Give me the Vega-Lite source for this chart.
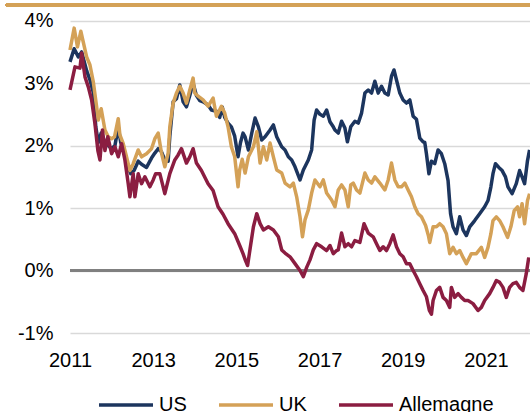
{
  "$schema": "https://vega.github.io/schema/vega-lite/v6.json",
  "width": 460,
  "height": 328,
  "autosize": {"type": "none"},
  "padding": {"left": 70, "top": 5, "right": 0, "bottom": 79},
  "background": "white",
  "config": {
    "view": {"stroke": null},
    "font": "Liberation Sans",
    "axis": {"labelFont": "Liberation Sans", "labelFontSize": 20, "labelColor": "#000000", "ticks": false, "domain": false, "title": null}
  },
  "data": {"values": [
{"s":"US","t":2011.0,"v":3.34},{"s":"US","t":2011.1,"v":3.55},{"s":"US","t":2011.2,"v":3.42},{"s":"US","t":2011.28,"v":3.5},{"s":"US","t":2011.4,"v":3.2},{"s":"US","t":2011.48,"v":3.05},{"s":"US","t":2011.56,"v":2.85},{"s":"US","t":2011.62,"v":2.3},{"s":"US","t":2011.68,"v":2.05},{"s":"US","t":2011.75,"v":2.2},{"s":"US","t":2011.84,"v":2.05},{"s":"US","t":2011.92,"v":2.0},{"s":"US","t":2012.0,"v":1.95},{"s":"US","t":2012.08,"v":2.0},{"s":"US","t":2012.16,"v":2.3},{"s":"US","t":2012.22,"v":2.05},{"s":"US","t":2012.3,"v":1.9},{"s":"US","t":2012.38,"v":1.7},{"s":"US","t":2012.46,"v":1.55},{"s":"US","t":2012.54,"v":1.6},{"s":"US","t":2012.64,"v":1.75},{"s":"US","t":2012.72,"v":1.7},{"s":"US","t":2012.84,"v":1.65},{"s":"US","t":2012.96,"v":1.8},{"s":"US","t":2013.04,"v":1.88},{"s":"US","t":2013.12,"v":1.95},{"s":"US","t":2013.2,"v":1.9},{"s":"US","t":2013.28,"v":1.77},{"s":"US","t":2013.36,"v":1.75},{"s":"US","t":2013.4,"v":2.15},{"s":"US","t":2013.48,"v":2.7},{"s":"US","t":2013.56,"v":2.75},{"s":"US","t":2013.64,"v":2.97},{"s":"US","t":2013.72,"v":2.7},{"s":"US","t":2013.8,"v":2.62},{"s":"US","t":2013.88,"v":2.8},{"s":"US","t":2013.96,"v":3.0},{"s":"US","t":2014.04,"v":2.8},{"s":"US","t":2014.12,"v":2.72},{"s":"US","t":2014.2,"v":2.7},{"s":"US","t":2014.32,"v":2.65},{"s":"US","t":2014.4,"v":2.57},{"s":"US","t":2014.52,"v":2.55},{"s":"US","t":2014.6,"v":2.45},{"s":"US","t":2014.66,"v":2.62},{"s":"US","t":2014.72,"v":2.45},{"s":"US","t":2014.8,"v":2.36},{"s":"US","t":2014.88,"v":2.3},{"s":"US","t":2014.96,"v":2.15},{"s":"US","t":2015.04,"v":1.82},{"s":"US","t":2015.1,"v":2.05},{"s":"US","t":2015.16,"v":2.2},{"s":"US","t":2015.21,"v":2.14},{"s":"US","t":2015.29,"v":1.93},{"s":"US","t":2015.37,"v":2.2},{"s":"US","t":2015.45,"v":2.44},{"s":"US","t":2015.53,"v":2.3},{"s":"US","t":2015.61,"v":2.09},{"s":"US","t":2015.69,"v":2.14},{"s":"US","t":2015.81,"v":2.25},{"s":"US","t":2015.89,"v":2.33},{"s":"US","t":2015.97,"v":2.14},{"s":"US","t":2016.09,"v":1.98},{"s":"US","t":2016.17,"v":1.93},{"s":"US","t":2016.25,"v":1.82},{"s":"US","t":2016.33,"v":1.77},{"s":"US","t":2016.41,"v":1.66},{"s":"US","t":2016.53,"v":1.45},{"s":"US","t":2016.61,"v":1.61},{"s":"US","t":2016.73,"v":1.77},{"s":"US","t":2016.81,"v":1.93},{"s":"US","t":2016.87,"v":2.41},{"s":"US","t":2016.93,"v":2.57},{"s":"US","t":2017.01,"v":2.5},{"s":"US","t":2017.09,"v":2.47},{"s":"US","t":2017.17,"v":2.57},{"s":"US","t":2017.25,"v":2.38},{"s":"US","t":2017.33,"v":2.3},{"s":"US","t":2017.37,"v":2.25},{"s":"US","t":2017.45,"v":2.2},{"s":"US","t":2017.53,"v":2.39},{"s":"US","t":2017.61,"v":2.28},{"s":"US","t":2017.67,"v":2.06},{"s":"US","t":2017.75,"v":2.3},{"s":"US","t":2017.85,"v":2.39},{"s":"US","t":2017.93,"v":2.36},{"s":"US","t":2018.01,"v":2.52},{"s":"US","t":2018.09,"v":2.84},{"s":"US","t":2018.17,"v":2.89},{"s":"US","t":2018.25,"v":2.84},{"s":"US","t":2018.33,"v":3.03},{"s":"US","t":2018.41,"v":2.84},{"s":"US","t":2018.49,"v":2.95},{"s":"US","t":2018.57,"v":2.84},{"s":"US","t":2018.65,"v":2.81},{"s":"US","t":2018.73,"v":3.11},{"s":"US","t":2018.79,"v":3.21},{"s":"US","t":2018.85,"v":3.05},{"s":"US","t":2018.93,"v":2.84},{"s":"US","t":2019.01,"v":2.73},{"s":"US","t":2019.09,"v":2.68},{"s":"US","t":2019.17,"v":2.73},{"s":"US","t":2019.25,"v":2.47},{"s":"US","t":2019.33,"v":2.42},{"s":"US","t":2019.41,"v":2.12},{"s":"US","t":2019.49,"v":2.06},{"s":"US","t":2019.53,"v":2.05},{"s":"US","t":2019.57,"v":1.87},{"s":"US","t":2019.63,"v":1.55},{"s":"US","t":2019.69,"v":1.75},{"s":"US","t":2019.77,"v":1.71},{"s":"US","t":2019.85,"v":1.93},{"s":"US","t":2019.93,"v":1.87},{"s":"US","t":2020.01,"v":1.71},{"s":"US","t":2020.09,"v":1.44},{"s":"US","t":2020.15,"v":0.91},{"s":"US","t":2020.21,"v":0.7},{"s":"US","t":2020.29,"v":0.59},{"s":"US","t":2020.37,"v":0.86},{"s":"US","t":2020.45,"v":0.65},{"s":"US","t":2020.53,"v":0.56},{"s":"US","t":2020.61,"v":0.7},{"s":"US","t":2020.73,"v":0.8},{"s":"US","t":2020.85,"v":0.91},{"s":"US","t":2020.97,"v":1.02},{"s":"US","t":2021.05,"v":1.12},{"s":"US","t":2021.12,"v":1.34},{"s":"US","t":2021.17,"v":1.55},{"s":"US","t":2021.23,"v":1.71},{"s":"US","t":2021.31,"v":1.65},{"s":"US","t":2021.39,"v":1.6},{"s":"US","t":2021.47,"v":1.5},{"s":"US","t":2021.53,"v":1.34},{"s":"US","t":2021.63,"v":1.23},{"s":"US","t":2021.73,"v":1.39},{"s":"US","t":2021.81,"v":1.6},{"s":"US","t":2021.87,"v":1.5},{"s":"US","t":2021.93,"v":1.39},{"s":"US","t":2022.0,"v":1.76},{"s":"US","t":2022.05,"v":1.93},
{"s":"UK","t":2011.0,"v":3.53},{"s":"UK","t":2011.1,"v":3.88},{"s":"UK","t":2011.18,"v":3.58},{"s":"UK","t":2011.26,"v":3.83},{"s":"UK","t":2011.4,"v":3.42},{"s":"UK","t":2011.48,"v":3.29},{"s":"UK","t":2011.56,"v":3.02},{"s":"UK","t":2011.64,"v":2.62},{"s":"UK","t":2011.68,"v":2.41},{"s":"UK","t":2011.75,"v":2.59},{"s":"UK","t":2011.84,"v":2.25},{"s":"UK","t":2011.92,"v":2.14},{"s":"UK","t":2012.0,"v":2.11},{"s":"UK","t":2012.07,"v":2.14},{"s":"UK","t":2012.16,"v":2.43},{"s":"UK","t":2012.2,"v":2.17},{"s":"UK","t":2012.28,"v":2.03},{"s":"UK","t":2012.36,"v":1.82},{"s":"UK","t":2012.44,"v":1.6},{"s":"UK","t":2012.52,"v":1.71},{"s":"UK","t":2012.64,"v":1.93},{"s":"UK","t":2012.72,"v":1.82},{"s":"UK","t":2012.84,"v":1.87},{"s":"UK","t":2012.96,"v":1.95},{"s":"UK","t":2013.04,"v":2.11},{"s":"UK","t":2013.12,"v":2.2},{"s":"UK","t":2013.2,"v":1.88},{"s":"UK","t":2013.28,"v":1.66},{"s":"UK","t":2013.36,"v":1.88},{"s":"UK","t":2013.4,"v":2.3},{"s":"UK","t":2013.48,"v":2.68},{"s":"UK","t":2013.56,"v":2.84},{"s":"UK","t":2013.64,"v":2.95},{"s":"UK","t":2013.72,"v":2.84},{"s":"UK","t":2013.8,"v":2.68},{"s":"UK","t":2013.88,"v":2.89},{"s":"UK","t":2013.96,"v":3.08},{"s":"UK","t":2014.0,"v":2.84},{"s":"UK","t":2014.08,"v":2.79},{"s":"UK","t":2014.2,"v":2.73},{"s":"UK","t":2014.32,"v":2.63},{"s":"UK","t":2014.44,"v":2.76},{"s":"UK","t":2014.52,"v":2.47},{"s":"UK","t":2014.64,"v":2.63},{"s":"UK","t":2014.72,"v":2.52},{"s":"UK","t":2014.8,"v":2.3},{"s":"UK","t":2014.88,"v":1.98},{"s":"UK","t":2014.96,"v":1.82},{"s":"UK","t":2015.04,"v":1.34},{"s":"UK","t":2015.08,"v":1.61},{"s":"UK","t":2015.14,"v":1.78},{"s":"UK","t":2015.21,"v":1.56},{"s":"UK","t":2015.29,"v":1.82},{"s":"UK","t":2015.41,"v":1.98},{"s":"UK","t":2015.49,"v":2.22},{"s":"UK","t":2015.57,"v":1.72},{"s":"UK","t":2015.65,"v":1.98},{"s":"UK","t":2015.73,"v":1.77},{"s":"UK","t":2015.81,"v":2.04},{"s":"UK","t":2015.89,"v":1.82},{"s":"UK","t":2015.97,"v":1.61},{"s":"UK","t":2016.09,"v":1.56},{"s":"UK","t":2016.17,"v":1.4},{"s":"UK","t":2016.29,"v":1.34},{"s":"UK","t":2016.37,"v":1.4},{"s":"UK","t":2016.45,"v":1.18},{"s":"UK","t":2016.53,"v":0.86},{"s":"UK","t":2016.59,"v":0.54},{"s":"UK","t":2016.65,"v":0.81},{"s":"UK","t":2016.73,"v":0.97},{"s":"UK","t":2016.81,"v":1.24},{"s":"UK","t":2016.89,"v":1.45},{"s":"UK","t":2017.01,"v":1.34},{"s":"UK","t":2017.09,"v":1.45},{"s":"UK","t":2017.17,"v":1.24},{"s":"UK","t":2017.29,"v":1.13},{"s":"UK","t":2017.37,"v":1.02},{"s":"UK","t":2017.45,"v":1.29},{"s":"UK","t":2017.53,"v":1.37},{"s":"UK","t":2017.61,"v":1.29},{"s":"UK","t":2017.69,"v":1.02},{"s":"UK","t":2017.75,"v":1.37},{"s":"UK","t":2017.81,"v":1.4},{"s":"UK","t":2017.89,"v":1.29},{"s":"UK","t":2017.97,"v":1.24},{"s":"UK","t":2018.09,"v":1.56},{"s":"UK","t":2018.17,"v":1.45},{"s":"UK","t":2018.25,"v":1.4},{"s":"UK","t":2018.33,"v":1.5},{"s":"UK","t":2018.45,"v":1.4},{"s":"UK","t":2018.57,"v":1.29},{"s":"UK","t":2018.65,"v":1.45},{"s":"UK","t":2018.73,"v":1.72},{"s":"UK","t":2018.81,"v":1.45},{"s":"UK","t":2018.89,"v":1.34},{"s":"UK","t":2018.97,"v":1.34},{"s":"UK","t":2019.05,"v":1.4},{"s":"UK","t":2019.13,"v":1.29},{"s":"UK","t":2019.21,"v":1.18},{"s":"UK","t":2019.29,"v":1.02},{"s":"UK","t":2019.37,"v":0.91},{"s":"UK","t":2019.45,"v":0.86},{"s":"UK","t":2019.55,"v":0.72},{"s":"UK","t":2019.62,"v":0.55},{"s":"UK","t":2019.65,"v":0.45},{"s":"UK","t":2019.73,"v":0.7},{"s":"UK","t":2019.81,"v":0.7},{"s":"UK","t":2019.89,"v":0.75},{"s":"UK","t":2019.97,"v":0.7},{"s":"UK","t":2020.05,"v":0.59},{"s":"UK","t":2020.13,"v":0.27},{"s":"UK","t":2020.21,"v":0.37},{"s":"UK","t":2020.29,"v":0.27},{"s":"UK","t":2020.37,"v":0.32},{"s":"UK","t":2020.45,"v":0.21},{"s":"UK","t":2020.53,"v":0.11},{"s":"UK","t":2020.65,"v":0.27},{"s":"UK","t":2020.77,"v":0.27},{"s":"UK","t":2020.89,"v":0.37},{"s":"UK","t":2020.97,"v":0.21},{"s":"UK","t":2021.05,"v":0.37},{"s":"UK","t":2021.12,"v":0.59},{"s":"UK","t":2021.17,"v":0.8},{"s":"UK","t":2021.25,"v":0.86},{"s":"UK","t":2021.33,"v":0.8},{"s":"UK","t":2021.41,"v":0.7},{"s":"UK","t":2021.52,"v":0.53},{"s":"UK","t":2021.6,"v":0.7},{"s":"UK","t":2021.68,"v":0.96},{"s":"UK","t":2021.76,"v":1.02},{"s":"UK","t":2021.81,"v":0.86},{"s":"UK","t":2021.87,"v":1.07},{"s":"UK","t":2021.93,"v":0.75},{"s":"UK","t":2022.0,"v":1.12},{"s":"UK","t":2022.05,"v":1.23},
{"s":"Allemagne","t":2011.0,"v":2.89},{"s":"Allemagne","t":2011.12,"v":3.26},{"s":"Allemagne","t":2011.24,"v":3.24},{"s":"Allemagne","t":2011.28,"v":3.48},{"s":"Allemagne","t":2011.36,"v":3.1},{"s":"Allemagne","t":2011.44,"v":2.94},{"s":"Allemagne","t":2011.52,"v":2.73},{"s":"Allemagne","t":2011.6,"v":2.35},{"s":"Allemagne","t":2011.67,"v":1.92},{"s":"Allemagne","t":2011.72,"v":1.77},{"s":"Allemagne","t":2011.78,"v":2.25},{"s":"Allemagne","t":2011.84,"v":1.92},{"s":"Allemagne","t":2011.91,"v":2.14},{"s":"Allemagne","t":2012.0,"v":1.87},{"s":"Allemagne","t":2012.08,"v":1.98},{"s":"Allemagne","t":2012.16,"v":1.82},{"s":"Allemagne","t":2012.24,"v":2.03},{"s":"Allemagne","t":2012.32,"v":1.77},{"s":"Allemagne","t":2012.4,"v":1.39},{"s":"Allemagne","t":2012.44,"v":1.18},{"s":"Allemagne","t":2012.52,"v":1.55},{"s":"Allemagne","t":2012.56,"v":1.18},{"s":"Allemagne","t":2012.64,"v":1.55},{"s":"Allemagne","t":2012.72,"v":1.39},{"s":"Allemagne","t":2012.8,"v":1.5},{"s":"Allemagne","t":2012.92,"v":1.34},{"s":"Allemagne","t":2013.0,"v":1.45},{"s":"Allemagne","t":2013.06,"v":1.55},{"s":"Allemagne","t":2013.16,"v":1.55},{"s":"Allemagne","t":2013.28,"v":1.23},{"s":"Allemagne","t":2013.4,"v":1.55},{"s":"Allemagne","t":2013.52,"v":1.77},{"s":"Allemagne","t":2013.6,"v":1.85},{"s":"Allemagne","t":2013.68,"v":1.95},{"s":"Allemagne","t":2013.8,"v":1.72},{"s":"Allemagne","t":2013.88,"v":1.82},{"s":"Allemagne","t":2013.96,"v":1.95},{"s":"Allemagne","t":2014.04,"v":1.72},{"s":"Allemagne","t":2014.16,"v":1.6},{"s":"Allemagne","t":2014.32,"v":1.39},{"s":"Allemagne","t":2014.44,"v":1.28},{"s":"Allemagne","t":2014.56,"v":1.02},{"s":"Allemagne","t":2014.68,"v":0.9},{"s":"Allemagne","t":2014.8,"v":0.75},{"s":"Allemagne","t":2014.96,"v":0.59},{"s":"Allemagne","t":2015.08,"v":0.4},{"s":"Allemagne","t":2015.16,"v":0.27},{"s":"Allemagne","t":2015.22,"v":0.16},{"s":"Allemagne","t":2015.27,"v":0.08},{"s":"Allemagne","t":2015.33,"v":0.35},{"s":"Allemagne","t":2015.41,"v":0.7},{"s":"Allemagne","t":2015.49,"v":0.91},{"s":"Allemagne","t":2015.57,"v":0.75},{"s":"Allemagne","t":2015.65,"v":0.65},{"s":"Allemagne","t":2015.77,"v":0.7},{"s":"Allemagne","t":2015.89,"v":0.65},{"s":"Allemagne","t":2016.01,"v":0.54},{"s":"Allemagne","t":2016.09,"v":0.33},{"s":"Allemagne","t":2016.17,"v":0.28},{"s":"Allemagne","t":2016.29,"v":0.22},{"s":"Allemagne","t":2016.41,"v":0.11},{"s":"Allemagne","t":2016.53,"v":0.0},{"s":"Allemagne","t":2016.61,"v":-0.1},{"s":"Allemagne","t":2016.69,"v":0.05},{"s":"Allemagne","t":2016.77,"v":0.17},{"s":"Allemagne","t":2016.85,"v":0.33},{"s":"Allemagne","t":2016.93,"v":0.43},{"s":"Allemagne","t":2017.05,"v":0.38},{"s":"Allemagne","t":2017.17,"v":0.32},{"s":"Allemagne","t":2017.25,"v":0.4},{"s":"Allemagne","t":2017.33,"v":0.27},{"s":"Allemagne","t":2017.41,"v":0.32},{"s":"Allemagne","t":2017.45,"v":0.33},{"s":"Allemagne","t":2017.53,"v":0.6},{"s":"Allemagne","t":2017.61,"v":0.38},{"s":"Allemagne","t":2017.69,"v":0.43},{"s":"Allemagne","t":2017.77,"v":0.38},{"s":"Allemagne","t":2017.85,"v":0.48},{"s":"Allemagne","t":2017.97,"v":0.45},{"s":"Allemagne","t":2018.07,"v":0.75},{"s":"Allemagne","t":2018.17,"v":0.6},{"s":"Allemagne","t":2018.29,"v":0.54},{"s":"Allemagne","t":2018.37,"v":0.43},{"s":"Allemagne","t":2018.45,"v":0.32},{"s":"Allemagne","t":2018.53,"v":0.38},{"s":"Allemagne","t":2018.61,"v":0.32},{"s":"Allemagne","t":2018.69,"v":0.43},{"s":"Allemagne","t":2018.77,"v":0.57},{"s":"Allemagne","t":2018.85,"v":0.38},{"s":"Allemagne","t":2018.93,"v":0.27},{"s":"Allemagne","t":2019.01,"v":0.22},{"s":"Allemagne","t":2019.09,"v":0.11},{"s":"Allemagne","t":2019.17,"v":0.11},{"s":"Allemagne","t":2019.25,"v":0.0},{"s":"Allemagne","t":2019.33,"v":-0.1},{"s":"Allemagne","t":2019.41,"v":-0.21},{"s":"Allemagne","t":2019.49,"v":-0.32},{"s":"Allemagne","t":2019.57,"v":-0.42},{"s":"Allemagne","t":2019.64,"v":-0.64},{"s":"Allemagne","t":2019.69,"v":-0.7},{"s":"Allemagne","t":2019.73,"v":-0.48},{"s":"Allemagne","t":2019.81,"v":-0.32},{"s":"Allemagne","t":2019.89,"v":-0.27},{"s":"Allemagne","t":2019.97,"v":-0.43},{"s":"Allemagne","t":2020.05,"v":-0.48},{"s":"Allemagne","t":2020.13,"v":-0.59},{"s":"Allemagne","t":2020.17,"v":-0.27},{"s":"Allemagne","t":2020.25,"v":-0.43},{"s":"Allemagne","t":2020.33,"v":-0.37},{"s":"Allemagne","t":2020.41,"v":-0.43},{"s":"Allemagne","t":2020.49,"v":-0.48},{"s":"Allemagne","t":2020.57,"v":-0.48},{"s":"Allemagne","t":2020.69,"v":-0.53},{"s":"Allemagne","t":2020.81,"v":-0.64},{"s":"Allemagne","t":2020.89,"v":-0.59},{"s":"Allemagne","t":2020.97,"v":-0.48},{"s":"Allemagne","t":2021.09,"v":-0.37},{"s":"Allemagne","t":2021.17,"v":-0.27},{"s":"Allemagne","t":2021.25,"v":-0.16},{"s":"Allemagne","t":2021.33,"v":-0.19},{"s":"Allemagne","t":2021.41,"v":-0.27},{"s":"Allemagne","t":2021.49,"v":-0.43},{"s":"Allemagne","t":2021.57,"v":-0.27},{"s":"Allemagne","t":2021.65,"v":-0.21},{"s":"Allemagne","t":2021.73,"v":-0.19},{"s":"Allemagne","t":2021.81,"v":-0.27},{"s":"Allemagne","t":2021.89,"v":-0.32},{"s":"Allemagne","t":2021.97,"v":-0.05},{"s":"Allemagne","t":2022.03,"v":0.21}
  ]},
  "layer": [
    {
      "mark": {"type": "rule", "color": "#d4a157", "strokeWidth": 3, "clip": false},
      "encoding": {
        "x": {"datum": 2009.46, "type": "quantitative", "scale": {"domain": [2011, 2022.06], "nice": false, "zero": false}},
        "x2": {"datum": 2022.06},
        "y": {"datum": 4.25, "type": "quantitative", "scale": {"domain": [-1, 4.25], "nice": false}}
      }
    },
    {
      "mark": {"type": "rule", "color": "#808080", "strokeWidth": 3},
      "encoding": {
        "y": {"datum": 0, "type": "quantitative"}
      }
    },
    {
      "mark": {"type": "line", "strokeWidth": 3.5, "strokeJoin": "round"},
      "encoding": {
        "x": {"field": "t", "type": "quantitative", "scale": {"domain": [2011, 2022.06], "nice": false, "zero": false},
              "axis": {"values": [2011, 2013, 2015, 2017, 2019, 2021], "format": "d", "grid": false, "labelPadding": 17, "labelFlush": false}},
        "y": {"field": "v", "type": "quantitative", "scale": {"domain": [-1, 4.25], "nice": false},
              "axis": {"values": [-1, 0, 1, 2, 3, 4], "grid": true, "gridColor": "#d9d9d9", "gridWidth": 1.5, "labelPadding": 17, "labelExpr": "datum.value + '%'"}},
        "color": {"field": "s", "type": "nominal",
                  "scale": {"domain": ["US", "UK", "Allemagne"], "range": ["#1c355e", "#d4a157", "#8b1d41"]},
                  "legend": {"orient": "none", "legendX": 27, "legendY": 371, "direction": "horizontal", "title": null,
                             "symbolType": "stroke", "symbolSize": 2916, "symbolStrokeWidth": 3.5,
                             "labelFontSize": 20, "labelFont": "Liberation Sans", "labelColor": "#000000", "labelOffset": 4, "columnPadding": 25}}
      }
    }
  ]
}
